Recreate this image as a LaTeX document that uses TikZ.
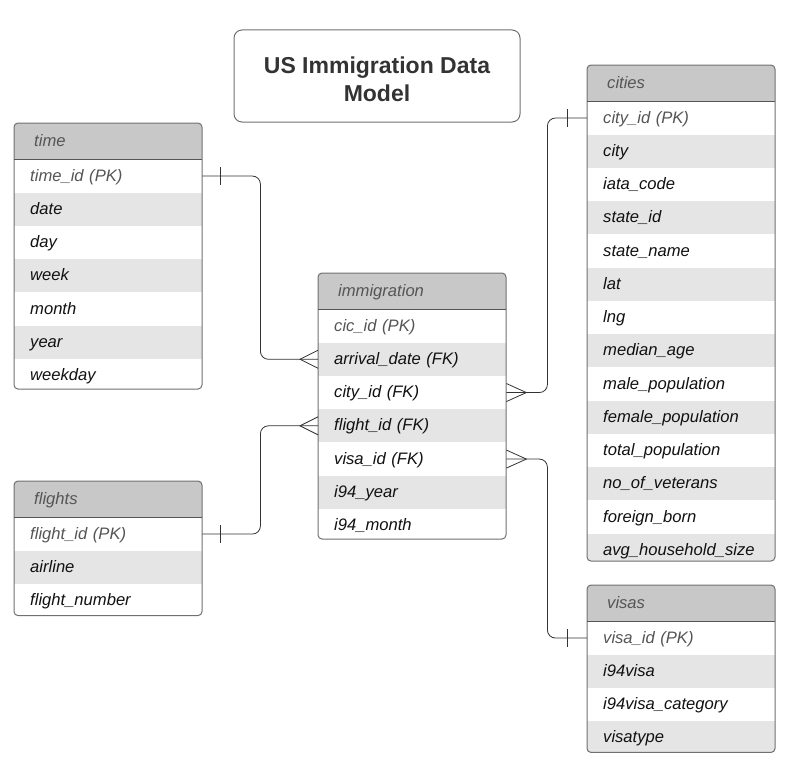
\documentclass[tikz,border=0pt]{standalone}
\usepackage{fontspec}
\setmainfont{Liberation Sans}
\definecolor{hdrfill}{HTML}{C8C8C8}
\definecolor{altfill}{HTML}{E5E5E5}
\definecolor{bordercol}{HTML}{707070}
\definecolor{pkcol}{HTML}{555555}
\definecolor{txtcol}{HTML}{111111}
\definecolor{conncol}{HTML}{333333}
\tikzset{
  cellfont/.style={font=\fontsize{16.6}{19}\selectfont\itshape},
  hdr/.style={cellfont, fill=hdrfill, text=pkcol, minimum width=188pt, minimum height=36pt,
    inner xsep=20pt, inner ysep=0pt, text width=148pt, align=left, text height=12.5pt, text depth=2.5pt},
  rowbox/.style={cellfont, minimum width=188pt, minimum height=32.86pt,
    inner xsep=16pt, inner ysep=0pt, text width=156pt, align=left, text height=12.5pt, text depth=2.5pt},
  tableborder/.style={draw=bordercol, line width=1pt, rounded corners=4pt},
  hdrline/.style={draw=pkcol, line width=1pt},
  conn/.style={draw=conncol, line width=0.8pt},
  titlebox/.style={draw=bordercol, line width=1pt, rounded corners=8pt, minimum width=286pt,
    minimum height=92pt, align=center, text=conncol,
    font=\fontsize{23}{28}\selectfont\bfseries}
}
\newcommand{\ertable}[6]{%
  \pgfmathsetmacro\tbot{#3+36+#4*32.86}
  \begin{scope}
    \clip[rounded corners=4pt] (#2,#3) rectangle (#2+188,\tbot);
    \node[hdr, anchor=north west] (#1-0) at (#2,#3) {#5};
    \foreach \r [count=\i] in {#6} {
      \pgfmathtruncatemacro\j{\i-1}
      \pgfmathtruncatemacro\oddrow{mod(\i,2)}
      \ifnum\oddrow=1 \def\rf{white}\else\def\rf{altfill}\fi
      \ifnum\i=1 \def\tc{pkcol}\else\def\tc{txtcol}\fi
      \node[rowbox, fill=\rf, text=\tc, anchor=north west] (#1-\i) at (#1-\j.south west) {\r};
    }
  \end{scope}
  \draw[tableborder] (#2,#3) rectangle (#2+188,\tbot);
  \draw[hdrline] (#1-0.south west) -- (#1-0.south east);
}
\begin{document}
\begin{tikzpicture}[x=1pt,y=-1pt]
\useasboundingbox (0,0) rectangle (789,768);

\draw[titlebox] (234,30) rectangle (520,122);
\node[titlebox, draw=none, anchor=center] (title) at (377,79) {US Immigration Data\\Model};

\ertable{time}{14}{123}{7}{time}{time\_id (PK),date,day,week,month,year,weekday}
\ertable{fl}{14}{481}{3}{flights}{flight\_id (PK),airline,flight\_number}
\ertable{imm}{318}{273}{7}{immigration}{cic\_id (PK),arrival\_date (FK),city\_id (FK),flight\_id (FK),visa\_id (FK),i94\_year,i94\_month}
\ertable{cit}{587}{65}{14}{cities}{city\_id (PK),city,iata\_code,state\_id,state\_name,lat,lng,median\_age,male\_population,female\_population,total\_population,no\_of\_veterans,foreign\_born,avg\_household\_size}
\ertable{vis}{587}{585}{4}{visas}{visa\_id (PK),i94visa,i94visa\_category,visatype}

% connectors
\draw[conn, rounded corners=8pt] (time-1.east) -- ++(58,0) |- (imm-2.west);
\draw[conn, rounded corners=8pt] (fl-1.east) -- ++(58,0) |- (imm-4.west);
\draw[conn, rounded corners=8pt] (imm-3.east) -- ++(41,0) |- (cit-1.west);
\draw[conn, rounded corners=8pt] (imm-5.east) -- ++(41,0) |- (vis-1.west);

% one-side bars
\draw[conn] (time-1.east) ++(18,-9) -- ++(0,18);
\draw[conn] (fl-1.east) ++(18,-9) -- ++(0,18);
\draw[conn] (cit-1.west) ++(-20,-9) -- ++(0,18);
\draw[conn] (vis-1.west) ++(-20,-9) -- ++(0,18);

% crow's feet
\draw[conn] (imm-2.west) ++(0,-9) -- ++(-18,9) -- ++(18,9);
\draw[conn] (imm-4.west) ++(0,-9) -- ++(-18,9) -- ++(18,9);
\draw[conn] (imm-3.east) ++(0,-9) -- ++(20,9) -- ++(-20,9);
\draw[conn] (imm-5.east) ++(0,-9) -- ++(20,9) -- ++(-20,9);
\end{tikzpicture}
\end{document}
